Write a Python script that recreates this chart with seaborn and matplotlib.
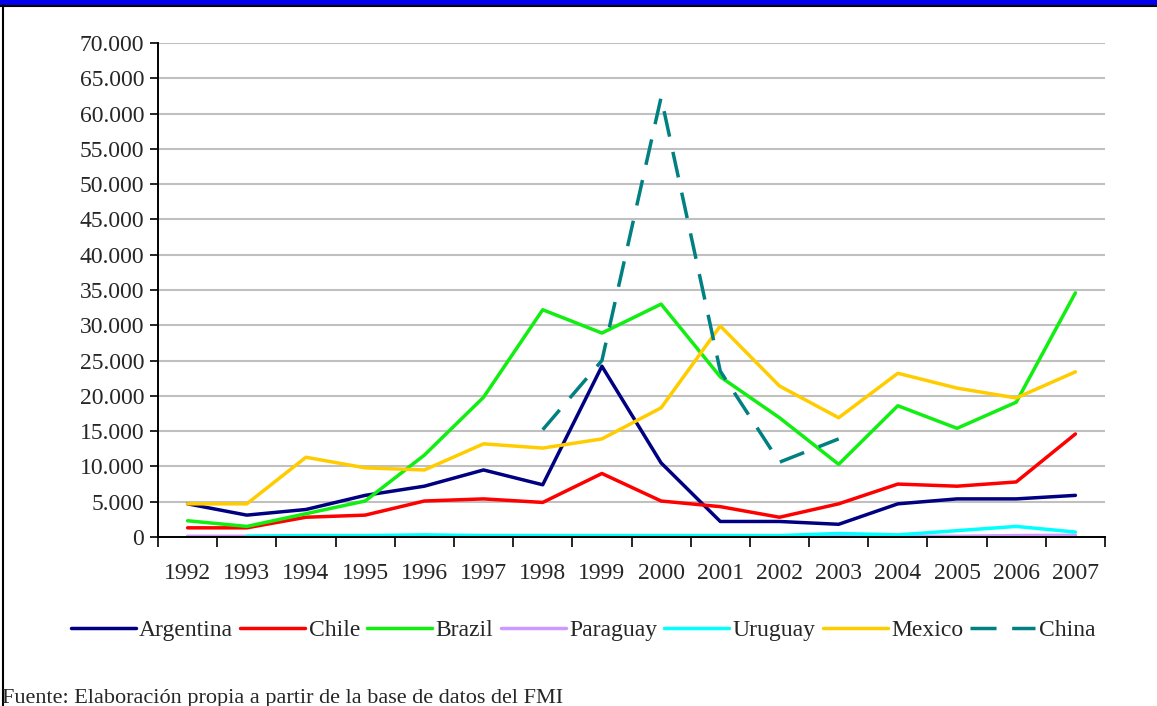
import numpy as np
import pandas as pd
import seaborn as sns
from matplotlib import pyplot as plt
from matplotlib.lines import Line2D
from matplotlib.patches import Rectangle

years = list(range(1992, 2008))
nan = np.nan

argentina = [4.7, 3.1, 3.9, 5.9, 7.2, 9.5, 7.4, 24.2, 10.5, 2.2, 2.2, 1.8, 4.7, 5.4, 5.4, 5.9]
chile = [1.3, 1.3, 2.8, 3.1, 5.1, 5.4, 4.9, 9.0, 5.1, 4.3, 2.8, 4.7, 7.5, 7.2, 7.8, 14.6]
brazil = [2.3, 1.5, 3.3, 5.1, 11.6, 19.8, 32.2, 28.9, 33.0, 22.7, 16.9, 10.3, 18.6, 15.4, 19.1, 34.6]
paraguay = [0.1, 0.1, 0.15, 0.1, 0.15, 0.2, 0.2, 0.1, 0.1, 0.08, 0.05, 0.1, 0.1, 0.1, 0.2, 0.25]
uruguay = [nan, 0.1, 0.2, 0.2, 0.3, 0.2, 0.2, 0.2, 0.2, 0.2, 0.2, 0.5, 0.3, 0.9, 1.5, 0.7]
mexico = [4.7, 4.7, 11.3, 9.8, 9.5, 13.2, 12.6, 13.9, 18.3, 29.9, 21.4, 16.9, 23.2, 21.1, 19.7, 23.4]
china = [nan, nan, nan, nan, nan, nan, 15.2, 25.0, 62.3, 23.5, 10.6, 13.9, nan, nan, nan, nan]

series = ['Argentina', 'Chile', 'Brazil', 'Paraguay', 'Uruguay', 'Mexico', 'China']
values = [argentina, chile, brazil, paraguay, uruguay, mexico, china]
colors = ['#000080', '#ff0000', '#11ee11', '#cc99ff', '#00ffff', '#ffcc00', '#008080']

rows = []
for name, vals in zip(series, values):
    for y, v in zip(years, vals):
        if not np.isnan(v):
            rows.append({'Año': y, 'Valor': v * 1000, 'Serie': name})
df = pd.DataFrame(rows)

sns.set_theme(style='white')
plt.rcParams['font.family'] = ['Liberation Serif', 'DejaVu Serif']
fs = 17
lw = 2.5

fig = plt.figure(figsize=(11.57, 7.06), dpi=100)
ax = fig.add_axes([158 / 1157, 1 - 537 / 706, (1105 - 158) / 1157, (537 - 43) / 706])

dashes = {s: '' for s in series}
dashes['China'] = (7.5, 4.5)
sns.lineplot(data=df, x='Año', y='Valor', hue='Serie', style='Serie', hue_order=series,
             style_order=series, palette=colors, dashes=dashes, linewidth=lw, legend=False, ax=ax)

ax.set_xlim(1991.5, 2007.5)
ax.set_ylim(0, 70000)
yt = np.arange(0, 70001, 5000)
ax.set_yticks(yt)
ax.set_yticklabels([f'{v:,.0f}'.replace(',', '.') for v in yt], fontsize=fs)
ax.set_xticks(np.arange(1991.5, 2008, 1))
ax.set_xticklabels([])
ax.set_xticks(years, minor=True)
ax.set_xticklabels([str(y) for y in years], minor=True, fontsize=fs)
ax.tick_params(axis='x', which='major', direction='out', length=7, width=1.2, color='black', bottom=True)
ax.tick_params(axis='x', which='minor', length=0, pad=19)
ax.tick_params(axis='y', direction='out', length=6, width=1.2, color='black', left=True, pad=4)
ax.yaxis.grid(True, color='#c0c0c0', linewidth=1.5)
ax.xaxis.grid(False)
ax.set_axisbelow(True)
ax.set_xlabel('')
ax.set_ylabel('')
for s in ['top', 'right']:
    ax.spines[s].set_visible(False)
for s in ['left', 'bottom']:
    ax.spines[s].set_color('black')
    ax.spines[s].set_linewidth(1.4)

handles = []
for name, c in zip(series, colors):
    ls = (0, (7.5, 4.5)) if name == 'China' else '-'
    handles.append(Line2D([], [], color=c, linewidth=lw, linestyle=ls))
fig.legend(handles, series, loc='center', bbox_to_anchor=(0.504, 1 - 630 / 706), ncol=7,
           frameon=False, fontsize=fs, handlelength=2.75, handletextpad=0.15, columnspacing=0.3)

# frame of the original image
fig.patches.append(Rectangle((0, 1 - 5 / 706), 1, 5 / 706, transform=fig.transFigure,
                             facecolor='#0000ee', edgecolor='none'))
fig.lines.append(Line2D([0, 1], [1 - 6 / 706, 1 - 6 / 706], transform=fig.transFigure, color='black', linewidth=1.5))
fig.lines.append(Line2D([3 / 1157, 3 / 1157], [0, 1 - 5 / 706], transform=fig.transFigure, color='black', linewidth=1.5))

fig.text(2 / 1157, 1 - 698 / 706, 'Fuente: Elaboración propia a partir de la base de datos del FMI',
         fontsize=16, ha='left', va='center')

plt.savefig('out.png', dpi=100)
